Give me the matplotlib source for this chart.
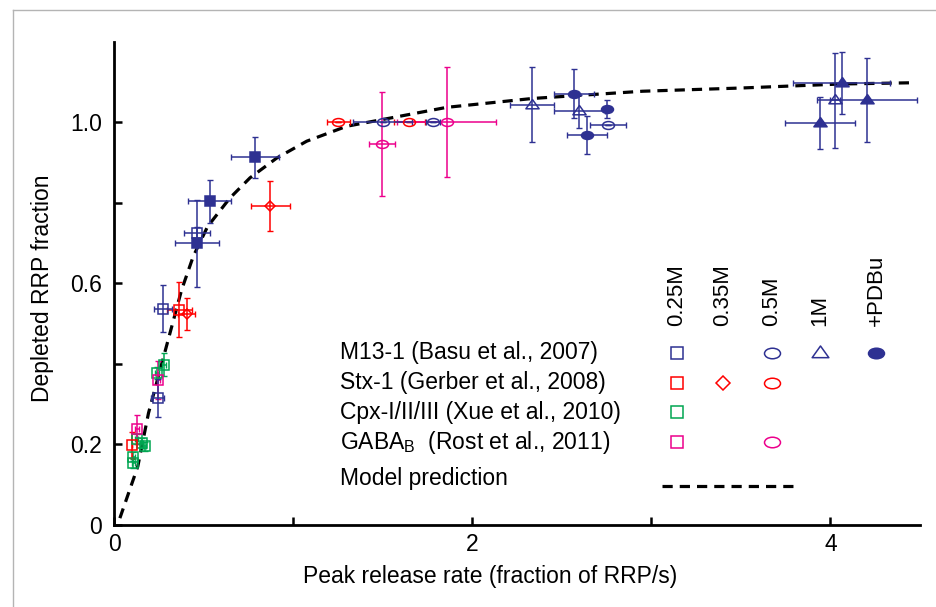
import numpy as np
import matplotlib
matplotlib.use('Agg')
import matplotlib.pyplot as plt
from matplotlib.path import Path
from matplotlib.lines import Line2D

# ---------- DATA ----------
# M13-1 (Basu et al., 2007)
m13_025_x = [0.270, 0.462, 0.241]
m13_025_y = [0.537, 0.724, 0.315]
m13_025_xerr = [0.052, 0.072, 0.035]
m13_025_yerr = [0.059, 0.015, 0.047]

m13_025p_x = [0.462, 0.532, 0.786]
m13_025p_y = [0.699, 0.804, 0.913]
m13_025p_xerr = [0.123, 0.119, 0.133]
m13_025p_yerr = [0.108, 0.053, 0.051]

m13_05_x = [1.498, 1.781, 2.759]
m13_05_y = [1.001, 1.001, 0.994]
m13_05_xerr = [0.165, 0.040, 0.100]
m13_05_yerr = [0.0, 0.0, 0.0]

m13_05p_x = [2.567, 2.638, 2.750]
m13_05p_y = [1.071, 0.969, 1.033]
m13_05p_xerr = [0.112, 0.112, 0.0]
m13_05p_yerr = [0.061, 0.047, 0.022]

m13_1_x = [2.334, 2.597, 4.025]
m13_1_y = [1.044, 1.027, 1.055]
m13_1_xerr = [0.122, 0.142, 0.030]
m13_1_yerr = [0.093, 0.041, 0.118]

m13_1p_x = [3.941, 4.063, 4.202]
m13_1p_y = [0.998, 1.098, 1.055]
m13_1p_xerr = [0.194, 0.270, 0.279]
m13_1p_yerr = [0.064, 0.077, 0.105]

# Stx-1 (Gerber et al., 2008)
stx_025_x = [0.363, 0.096]
stx_025_y = [0.535, 0.199]
stx_025_xerr = [0.070, 0.0]
stx_025_yerr = [0.069, 0.033]

stx_035_x = [0.403, 0.869]
stx_035_y = [0.524, 0.792]
stx_035_xerr = [0.048, 0.109]
stx_035_yerr = [0.040, 0.063]

stx_05_x = [1.250, 1.647]
stx_05_y = [1.001, 1.001]
stx_05_xerr = [0.065, 0.088]
stx_05_yerr = [0.0, 0.0]

# Cpx-I/II/III (Xue et al., 2010)
cpx_x = [0.277, 0.236, 0.105, 0.105, 0.152, 0.170, 0.124]
cpx_y = [0.398, 0.377, 0.170, 0.153, 0.203, 0.195, 0.213]
cpx_xerr = [0.010, 0.010, 0.008, 0.008, 0.008, 0.008, 0.008]
cpx_yerr = [0.029, 0.015, 0.012, 0.012, 0.012, 0.012, 0.012]

# GABA_B (Rost et al., 2011)
gaba_025_x = [0.245, 0.127]
gaba_025_y = [0.360, 0.238]
gaba_025_xerr = [0.010, 0.010]
gaba_025_yerr = [0.048, 0.036]

gaba_05_x = [1.493, 1.856]
gaba_05_y = [0.945, 1.001]
gaba_05_xerr = [0.073, 0.275]
gaba_05_yerr = [0.129, 0.136]

# model prediction
model_x = [0.03, 0.13, 0.19, 0.30, 0.375, 0.44, 0.52, 0.645, 0.757, 0.906,
           1.074, 1.297, 1.5, 1.856, 2.334, 2.95, 3.5, 4.06, 4.45]
model_y = [0.017, 0.145, 0.278, 0.46, 0.584, 0.667, 0.741, 0.812, 0.862, 0.911,
           0.953, 0.99, 1.007, 1.037, 1.059, 1.077, 1.085, 1.095, 1.098]

conc_labels = ['0.25M', '0.35M', '0.5M', '1M', '+PDBu']
group_labels = ['M13-1 (Basu et al., 2007)', 'Stx-1 (Gerber et al., 2008)',
                'Cpx-I/II/III (Xue et al., 2010)',
                r'GABA$_\mathrm{B}$  (Rost et al., 2011)']

# ---------- STYLE ----------
plt.rcParams['font.family'] = ['Liberation Sans', 'DejaVu Sans']
plt.rcParams['mathtext.fontset'] = 'custom'
plt.rcParams['mathtext.rm'] = 'Liberation Sans'

BLUE = '#2E3192'
RED = '#FF0000'
GREEN = '#00A651'
PINK = '#EC008C'

W, H = 937, 607
ELLIPSE = Path.unit_circle().transformed(matplotlib.transforms.Affine2D().scale(1.0, 0.66))
TRI = Path([(-1, -0.5), (1, -0.5), (0, 0.9), (-1, -0.5)],
           [Path.MOVETO, Path.LINETO, Path.LINETO, Path.CLOSEPOLY])

fig = plt.figure(figsize=(W / 100, H / 100), dpi=100)
ax = fig.add_axes([114.5 / W, 1 - 525 / H, (920 - 114.5) / W, (525 - 41.7) / H])


def draw(x, y, xerr, yerr, color, marker, filled, ms):
    ax.errorbar(x, y, xerr=xerr, yerr=yerr, fmt='none', ecolor=color,
                elinewidth=1.1, capsize=2.2, capthick=1.0, zorder=2)
    ax.plot(x, y, linestyle='none', marker=marker, ms=ms, mec=color,
            mfc=color if filled else 'none', mew=1.1, zorder=3)


ax.plot(model_x, model_y, color='black', lw=2.3, dashes=(3.2, 2.2), zorder=1)

draw(cpx_x, cpx_y, cpx_xerr, cpx_yerr, GREEN, 's', False, 6.5)
draw(gaba_025_x, gaba_025_y, gaba_025_xerr, gaba_025_yerr, PINK, 's', False, 6.5)
draw(stx_025_x, stx_025_y, stx_025_xerr, stx_025_yerr, RED, 's', False, 6.5)
draw(m13_025_x, m13_025_y, m13_025_xerr, m13_025_yerr, BLUE, 's', False, 6.5)
draw(m13_025p_x, m13_025p_y, m13_025p_xerr, m13_025p_yerr, BLUE, 's', True, 6.5)
draw(stx_035_x, stx_035_y, stx_035_xerr, stx_035_yerr, RED, 'D', False, 5)
draw(stx_05_x, stx_05_y, stx_05_xerr, stx_05_yerr, RED, ELLIPSE, False, 8.6)
draw(gaba_05_x, gaba_05_y, gaba_05_xerr, gaba_05_yerr, PINK, ELLIPSE, False, 8.6)
draw(m13_05_x, m13_05_y, m13_05_xerr, m13_05_yerr, BLUE, ELLIPSE, False, 8.6)
draw(m13_05p_x, m13_05p_y, m13_05p_xerr, m13_05p_yerr, BLUE, ELLIPSE, True, 8.6)
draw(m13_1_x, m13_1_y, m13_1_xerr, m13_1_yerr, BLUE, TRI, False, 9.5)
draw(m13_1p_x, m13_1p_y, m13_1p_xerr, m13_1p_yerr, BLUE, TRI, True, 9.5)

# ---------- AXES ----------
ax.set_xlim(0, 4.5)
ax.set_ylim(0, 1.2)
for s in ['top', 'right']:
    ax.spines[s].set_visible(False)
for s in ['left', 'bottom']:
    ax.spines[s].set_linewidth(2)
ax.set_xticks([0, 1, 2, 3, 4])
ax.set_xticklabels(['0', '', '2', '', '4'])
ax.set_yticks([0, 0.2, 0.4, 0.6, 0.8, 1.0])
ax.set_yticklabels(['0', '0.2', '', '0.6', '', '1.0'])
ax.tick_params(direction='in', length=6, width=1.8, labelsize=16.5)
ax.tick_params(axis='y', pad=9)
ax.tick_params(axis='x', pad=6)
ax.set_xlabel('Peak release rate (fraction of RRP/s)', fontsize=16.5)
ax.set_ylabel('Depleted RRP fraction', fontsize=16.5)
ax.xaxis.set_label_coords((490 - 114.5) / 805.5, (525 - 565) / 483.3)
ax.yaxis.set_label_coords((54 - 114.5) / 805.5, (525 - 288) / 483.3)

# ---------- LEGEND (hand laid out like the original) ----------
def fx(px):
    return px / W


def fy(py):
    return 1 - py / H


col_x = [677, 723, 772, 820, 876]
row_y = [353, 383, 412, 442]
for cx, lab in zip(col_x, conc_labels):
    fig.text(fx(cx), fy(326), lab, rotation=90, ha='center', va='bottom', fontsize=16)
for ry, lab in zip(row_y, group_labels):
    fig.text(fx(340), fy(ry), lab, ha='left', va='center', fontsize=16.5)
fig.text(fx(340), fy(478), 'Model prediction', ha='left', va='center', fontsize=16.5)

legend_marks = [
    (0, 0, BLUE, 's', False, 8), (0, 2, BLUE, ELLIPSE, False, 11.5),
    (0, 3, BLUE, TRI, False, 12), (0, 4, BLUE, ELLIPSE, True, 11.5),
    (1, 0, RED, 's', False, 8), (1, 1, RED, 'D', False, 7), (1, 2, RED, ELLIPSE, False, 11.5),
    (2, 0, GREEN, 's', False, 8),
    (3, 0, PINK, 's', False, 8), (3, 2, PINK, ELLIPSE, False, 11.5),
]
for r, c, color, mk, filled, ms in legend_marks:
    fig.add_artist(Line2D([fx(col_x[c])], [fy(row_y[r])], transform=fig.transFigure,
                          linestyle='none', marker=mk, ms=ms, mec=color,
                          mfc=color if filled else 'none', mew=1.1))
fig.add_artist(Line2D([fx(662), fx(795)], [fy(486), fy(486)], transform=fig.transFigure,
                      color='black', lw=2.3, dashes=(3.2, 2.2)))

# light frame around the figure
fig.add_artist(Line2D([fx(13), fx(W)], [fy(10), fy(10)], transform=fig.transFigure,
                      color='#b4b4b4', lw=1))
fig.add_artist(Line2D([fx(13), fx(13)], [fy(10), fy(H)], transform=fig.transFigure,
                      color='#b4b4b4', lw=1))

fig.savefig('out.png', dpi=100)
